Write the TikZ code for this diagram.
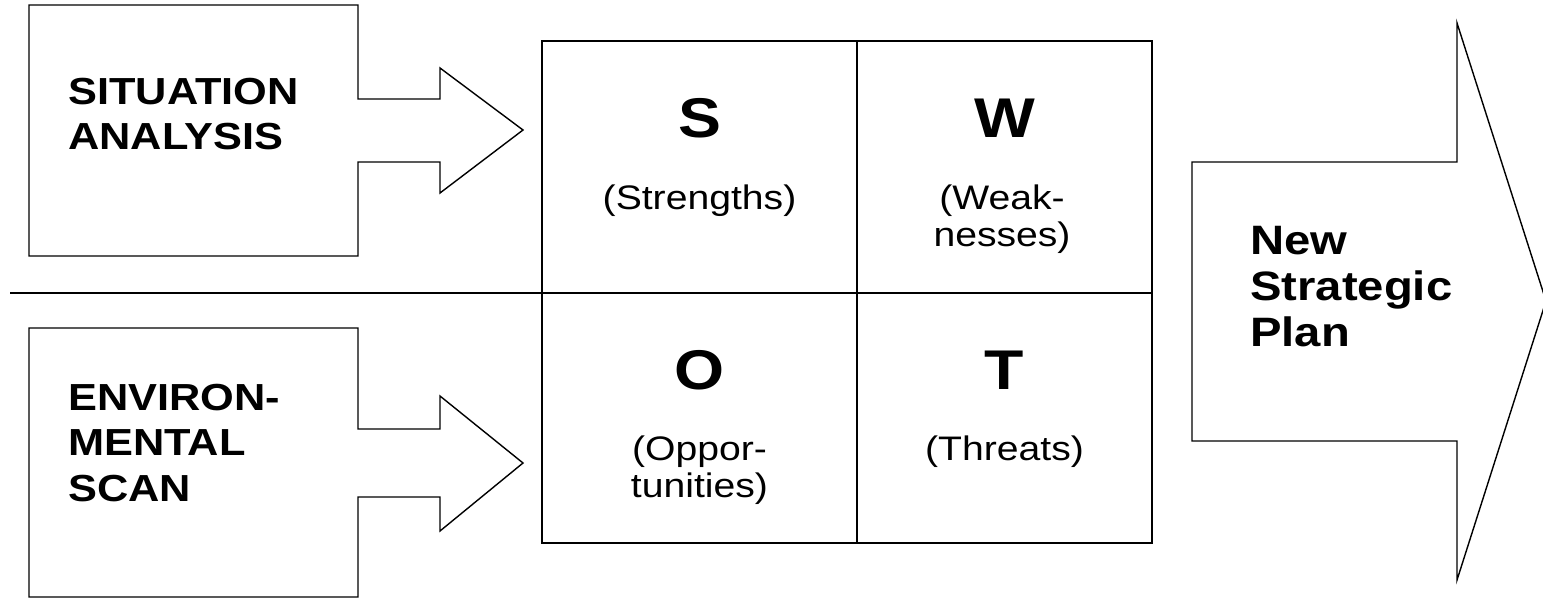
\documentclass[tikz,border=0pt]{standalone}
\usepackage{fontspec}
\setmainfont{Liberation Sans}[FakeStretch=1.15]
\usepackage{tikz}

\tikzset{
  outline/.style={draw,line width=1pt,line join=miter},
  sidelabel/.style={font=\bfseries\fontsize{26.8}{32.2}\selectfont,align=left,anchor=west,inner sep=0pt},
  planlabel/.style={font=\bfseries\fontsize{29.2}{32.7}\selectfont,align=left,anchor=west,inner sep=0pt},
  letter/.style={font=\bfseries\fontsize{39.8}{48}\selectfont,anchor=base,inner sep=0pt},
  cellnote/.style={font=\fontsize{24.2}{26.3}\selectfont,align=center,inner sep=0pt}
}

\begin{document}
\begin{tikzpicture}[x=0.025cm,y=-0.025cm]
    \useasboundingbox (0,0) rectangle (1543,598);
    \draw[outline] (29,5) -- (358,5) -- (358,99) -- (440,99) -- (440,68) -- (523,130)
        -- (440,193) -- (440,162) -- (358,162) -- (358,256) -- (29,256) -- cycle;
    \draw[outline] (29,328) -- (358,328) -- (358,429) -- (440,429) -- (440,396) -- (523,463)
        -- (440,531) -- (440,497) -- (358,497) -- (358,597) -- (29,597) -- cycle;
    \draw[outline] (1192,162) -- (1457,162) -- (1457,23) -- (1546,301) -- (1457,580)
        -- (1457,441) -- (1192,441) -- cycle;
    \coordinate (gnw) at (542,41);
    \coordinate (gse) at (1152,543);
    \coordinate (gn) at (857,41);
    \coordinate (gs) at (857,543);
    \coordinate (hw) at (10,293);
    \coordinate (he) at (1152,293);
    \draw[outline] (gnw) rectangle (gse);
    \draw[outline] (gn) -- (gs);
    \draw[outline] (hw) -- (he);
    \node[sidelabel] (sit) at (68,114) {SITUATION\\ANALYSIS};
    \node[sidelabel] (env) at (68,443) {ENVIRON-\\MENTAL\\SCAN};
    \node[planlabel] (plan) at (1250,287) {New\\Strategic\\Plan};
    \node[letter] (s) at (699.5,137) {S};
    \node[letter] (w) at (1004.5,137) {W};
    \node[letter] (o) at (699.5,389) {O};
    \node[letter] (t) at (1004.5,389) {T};
    \node[cellnote,anchor=base] (sn) at (699.5,209) {(Strengths)};
    \node[cellnote] (wn) at (1002,219) {(Weak-\\nesses)};
    \node[cellnote] (on) at (699.5,470) {(Oppor-\\tunities)};
    \node[cellnote,anchor=base] (tn) at (1004.5,460) {(Threats)};
\end{tikzpicture}
\end{document}
